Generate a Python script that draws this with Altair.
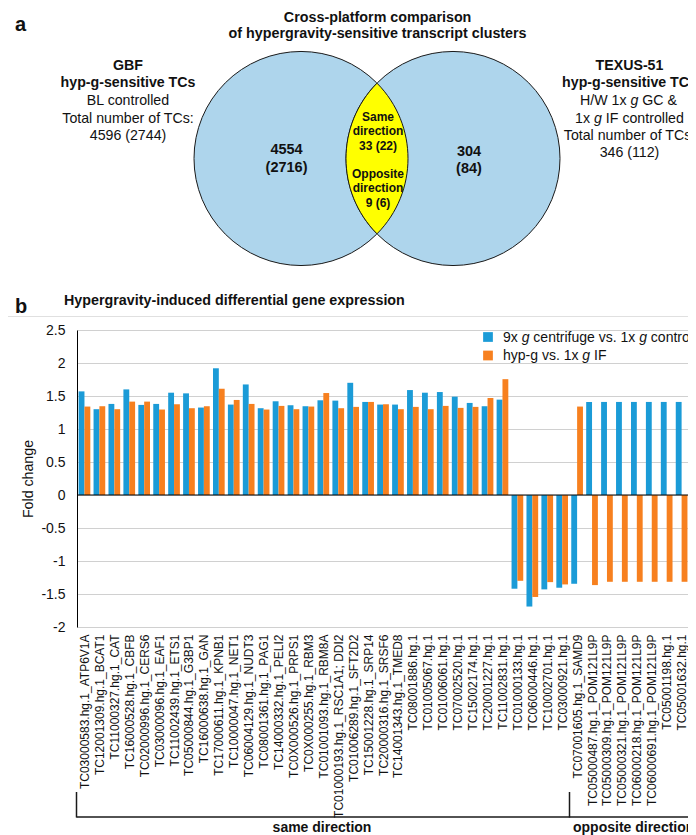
import altair as alt
import pandas as pd

# ---------------- data ----------------
categories = [
    "TC03000583.hg.1_ATP6V1A", "TC12001309.hg.1_BCAT1", "TC11000327.hg.1_CAT",
    "TC16000528.hg.1_CBFB", "TC02000996.hg.1_CERS6", "TC03000096.hg.1_EAF1",
    "TC11002439.hg.1_ETS1", "TC05000844.hg.1_G3BP1", "TC16000638.hg.1_GAN",
    "TC17000611.hg.1_KPNB1", "TC10000047.hg.1_NET1", "TC06004129.hg.1_NUDT3",
    "TC08001361.hg.1_PAG1", "TC14000332.hg.1_PELI2", "TC0X000526.hg.1_PRPS1",
    "TC0X000255.hg.1_RBM3", "TC01001093.hg.1_RBM8A", "TC01000193.hg.1_RSC1A1; DDI2",
    "TC01006289.hg.1_SFT2D2", "TC15001228.hg.1_SRP14", "TC20000316.hg.1_SRSF6",
    "TC14001343.hg.1_TMED8", "TC08001886.hg.1", "TC01005067.hg.1",
    "TC01006061.hg.1", "TC07002520.hg.1", "TC15002174.hg.1",
    "TC20001227.hg.1", "TC11002831.hg.1", "TC01000133.hg.1",
    "TC06000446.hg.1", "TC10002701.hg.1", "TC03000921.hg.1",
    "TC07001605.hg.1_SAMD9", "TC05000487.hg.1_POM121L9P", "TC05000309.hg.1_POM121L9P",
    "TC05000321.hg.1_POM121L9P", "TC06000218.hg.1_POM121L9P", "TC06000691.hg.1_POM121L9P",
    "TC05001198.hg.1", "TC05001632.hg.1", "TC15000509.hg.1",
]
fc_centrifuge = [
    1.57, 1.30, 1.38, 1.60, 1.365, 1.38, 1.55, 1.54, 1.325, 1.92,
    1.37, 1.675, 1.315, 1.42, 1.36, 1.345, 1.435, 1.43, 1.70, 1.41,
    1.37, 1.37, 1.59, 1.55, 1.56, 1.49, 1.395, 1.345, 1.445,
    -1.42, -1.69, -1.43, -1.405,
    -1.345, 1.41, 1.41, 1.41, 1.41, 1.41, 1.41, 1.41, 2.15,
]
fc_hypg = [
    1.34, 1.345, 1.30, 1.415, 1.415, 1.295, 1.375, 1.315, 1.345, 1.61,
    1.44, 1.38, 1.295, 1.35, 1.30, 1.34, 1.545, 1.315, 1.335, 1.41,
    1.375, 1.30, 1.335, 1.30, 1.35, 1.32, 1.335, 1.47, 1.755,
    -1.30, -1.545, -1.32, -1.355,
    1.34, -1.365, -1.315, -1.315, -1.315, -1.315, -1.315, -1.315, -1.32,
]
series_names = ["9x g centrifuge vs. 1x g control", "hyp-g vs. 1x g IF"]
y_ticks = [-2, -1.5, -1, -0.5, 0, 0.5, 1, 1.5, 2, 2.5]

# Venn counts
venn_left = ["GBF", "hyp-g-sensitive TCs", "BL controlled", "Total number of TCs:", "4596 (2744)"]
venn_left_only = ["4554", "(2716)"]
venn_right_only = ["304", "(84)"]
venn_mid = ["Same", "direction", "33 (22)", "Opposite", "direction", "9 (6)"]

rows = []
for c, a, b in zip(categories, fc_centrifuge, fc_hypg):
    rows.append({"tc": c, "series": series_names[0], "fc": a})
    rows.append({"tc": c, "series": series_names[1], "fc": b})
df = pd.DataFrame(rows)
zero_df = pd.DataFrame({"fc": [0.0]})

# ---------------- styling / layout ----------------
FONT = "Liberation Sans"
BLUE = "#1B9BD7"
ORANGE = "#F7801F"
VENN_BLUE = "#AED5EC"
YELLOW = "#FFFF00"
OX, OY = 77, 330          # page position of plot origin
PW, PH = 611, 297         # visible plot size (svg is 680 px wide)
dummy = alt.Data(values=[{"d": 0}])

# Arial / Liberation Sans advance widths (per 1000 em)
W = {" ": 278, ".": 278, "-": 333, "/": 278, "&": 667, "x": 500, "h": 556, "y": 500,
     "p": 556, "g": 556, "v": 500, "s": 500, "c": 500, "e": 556, "n": 556, "t": 278,
     "r": 333, "i": 222, "f": 278, "u": 556, "o": 556, "l": 222, "d": 556, "H": 722,
     "W": 944, "G": 778, "C": 722, "I": 278, "F": 611}
for dg in "0123456789":
    W[dg] = 556


def tw(s, size):
    return sum(W.get(ch, 556) for ch in s) * size / 1000.0


def txt(s, x, y, size=14, bold=False, italic=False, align="left", angle=None,
        baseline="alphabetic", color="#111111"):
    kw = dict(text=s, font=FONT, fontSize=size, fontWeight="bold" if bold else "normal",
              fontStyle="italic" if italic else "normal", align=align, baseline=baseline,
              color=color)
    if angle is not None:
        kw["angle"] = angle
    return alt.Chart(dummy).mark_text(**kw).encode(x=alt.value(x - OX), y=alt.value(y - OY))


def rich(pieces, x, y, size=14, center=False):
    total = sum(tw(p, size) for p, _ in pieces)
    cur = x - total / 2 if center else x
    out = []
    for p, it in pieces:
        lead = len(p) - len(p.lstrip(" "))
        out.append(txt(p.strip(), cur + tw(" " * lead, size), y, size=size, italic=it))
        cur += tw(p, size)
    return out


def rule(x1, x2, y1, y2, color="#1a1a1a", width=1.5):
    return alt.Chart(dummy).mark_rule(color=color, strokeWidth=width).encode(
        x=alt.value(x1 - OX), x2=alt.value(x2 - OX), y=alt.value(y1 - OY), y2=alt.value(y2 - OY))


layers = []

# ---------------- panel a : Venn ----------------
R = 107
SIZE = (2 * R) ** 2
for cx in (301, 453):
    layers.append(alt.Chart(dummy).mark_point(
        shape="circle", size=SIZE, filled=True, fill=VENN_BLUE, stroke="#1a1a1a",
        strokeWidth=1, opacity=1, fillOpacity=1, strokeOpacity=1
    ).encode(x=alt.value(cx - OX), y=alt.value(158.5 - OY)))
lens = "M 0 -0.704 A 1 1 0 0 1 0 0.704 A 1 1 0 0 1 0 -0.704 Z"
layers.append(alt.Chart(dummy).mark_point(
    shape=lens, size=SIZE, filled=True, fill=YELLOW, stroke="#1a1a1a",
    strokeWidth=1, opacity=1, fillOpacity=1, strokeOpacity=1
).encode(x=alt.value(377 - OX), y=alt.value(158.5 - OY)))

layers.append(txt("a", 15, 31, size=20, bold=True))
layers.append(txt("Cross-platform comparison", 377.6, 21.7, size=14.3, bold=True, align="center"))
layers.append(txt("of hypergravity-sensitive transcript clusters", 377.6, 38.3, size=14.3,
                  bold=True, align="center"))

lb = [70, 87.3, 105, 122.5, 140]
for i, s in enumerate(venn_left):
    layers.append(txt(s, 128, lb[i], size=14.2, bold=i < 2, align="center"))

rb = [70, 87.3, 105, 122.5, 140, 157.3]
layers.append(txt("TEXUS-51", 629.5, rb[0], size=14.2, bold=True, align="center"))
layers.append(txt("hyp-g-sensitive TCs", 629.5, rb[1], size=14.2, bold=True, align="center"))
layers += rich([("H/W 1x ", False), ("g", True), (" GC &", False)], 628.5, rb[2], size=14.2, center=True)
layers += rich([("1x ", False), ("g", True), (" IF controlled", False)], 629.5, rb[3], size=14.2, center=True)
layers.append(txt("Total number of TCs:", 629.5, rb[4], size=14.2, align="center"))
layers.append(txt("346 (112)", 629.5, rb[5], size=14.2, align="center"))

layers.append(txt(venn_left_only[0], 286.5, 154, size=14.5, bold=True, align="center"))
layers.append(txt(venn_left_only[1], 286.5, 171.7, size=14.5, bold=True, align="center"))
layers.append(txt(venn_right_only[0], 469, 156, size=14.5, bold=True, align="center"))
layers.append(txt(venn_right_only[1], 469, 173.3, size=14.5, bold=True, align="center"))

mb = [120.7, 134.7, 150, 177.7, 192, 206.7]
for s, yb in zip(venn_mid, mb):
    layers.append(txt(s, 378, yb, size=12, bold=True, align="center"))

# ---------------- panel b : bars ----------------
layers.append(rule(0, 700, 316.5, 316.5, color="#e0e0e0", width=1))
layers.append(txt("b", 15, 313.3, size=20, bold=True))
layers.append(txt("Hypergravity-induced differential gene expression", 64, 305, size=14.3, bold=True))
layers.append(txt("Fold change", 28.5, 479, size=14.2, angle=270, align="center", baseline="middle"))

y_axis = alt.Axis(values=y_ticks, grid=True, gridColor="#d0d0d0", gridWidth=1,
                  domainColor="#000000", domainWidth=1, ticks=False,
                  labelPadding=12, labelFontSize=14, labelFont=FONT,
                  labelColor="#111111", title=None, labelOverlap=False,
                  labelExpr="toString(datum.value)")
y_scale = alt.Scale(domain=[-2, 2.5], nice=False, zero=False)

bars = alt.Chart(df).mark_bar().encode(
    x=alt.X("tc:N", sort=categories,
            scale=alt.Scale(range=[0, 627], paddingInner=0, paddingOuter=0),
            axis=alt.Axis(title=None, labelAngle=-90, labelFontSize=12, labelFont=FONT,
                          labelColor="#111111", labelPadding=7, labelOffset=0.5,
                          domain=False, ticks=False, grid=False, labelOverlap=False,
                          labelLimit=250)),
    xOffset=alt.XOffset("series:N", sort=series_names,
                        scale=alt.Scale(paddingOuter=0.276, paddingInner=0)),
    y=alt.Y("fc:Q", scale=y_scale, axis=y_axis),
    color=alt.Color("series:N", sort=series_names,
                    scale=alt.Scale(domain=series_names, range=[BLUE, ORANGE]), legend=None),
)
layers.append(bars)

zero = alt.Chart(zero_df).mark_rule(color="#000000", strokeWidth=1).encode(
    y=alt.Y("fc:Q", scale=y_scale, axis=y_axis), x=alt.value(0), x2=alt.value(700 - OX))
layers.append(zero)

# legend
layers.append(alt.Chart(dummy).mark_square(size=95, color=BLUE, opacity=1).encode(
    x=alt.value(488 - OX), y=alt.value(337 - OY)))
layers.append(alt.Chart(dummy).mark_square(size=95, color=ORANGE, opacity=1).encode(
    x=alt.value(488 - OX), y=alt.value(355.5 - OY)))
layers += rich([("9x ", False), ("g", True), (" centrifuge vs. 1x ", False), ("g", True),
                (" control", False)], 503, 341.5, size=14)
layers += rich([("hyp-g vs. 1x ", False), ("g", True), (" IF", False)], 503, 359.5, size=14)

# group brackets
layers.append(rule(76.5, 76.5, 792, 817.5))
layers.append(rule(76.5, 700, 817, 817))
layers.append(rule(569.5, 569.5, 792, 817.5))
layers.append(txt("same direction", 322, 832, size=14, bold=True, align="center"))
layers.append(txt("opposite direction", 573, 832, size=14, bold=True))

chart = alt.layer(*layers).properties(
    width=PW, height=PH,
    autosize=alt.AutoSizeParams(type="none"),
    padding={"left": OX - 8, "top": OY - 8, "right": 0, "bottom": 835 - OY - PH},
).configure_view(stroke=None)

chart.save("out.html", embed_options={"renderer": "svg", "actions": False})
